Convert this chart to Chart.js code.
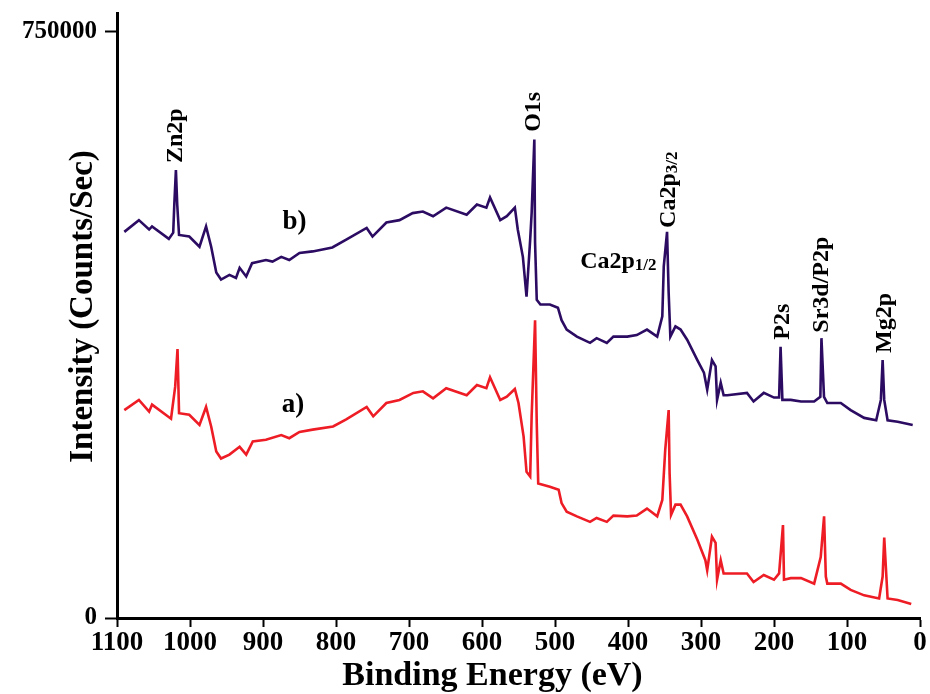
<!DOCTYPE html>
<html>
<head>
<meta charset="utf-8">
<title>XPS survey spectra</title>
<script src="https://cdn.jsdelivr.net/npm/chart.js@4.4.1/dist/chart.umd.min.js"></script>
<style>
  html, body { margin: 0; padding: 0; background: #fff; }
  #wrap { width: 930px; height: 694px; }
</style>
</head>
<body>
<div id="wrap"><canvas id="xps" width="930" height="694"></canvas></div>
<script>
// Binding energy (eV) and intensity (counts/sec), spectrum b (upper trace)
const energyB = [1090, 1070, 1056, 1052, 1029, 1023, 1021.5, 1019.3, 1017.5, 1015,
    1001, 987, 978, 971, 964, 957.5, 946, 937, 932, 923,
    915, 896, 887, 875, 864, 850, 832, 805, 786, 758,
    750, 731, 713, 695, 681, 667, 649, 621, 607, 594,
    589, 575, 566, 555, 551, 544, 539, 534, 532, 528.3,
    527.3, 525, 520, 507, 496, 491, 484, 470, 452, 443,
    429, 420, 401, 388, 374, 360, 353, 351, 346.5, 344.3,
    342, 335, 328, 319, 305, 296, 291.5, 285, 280, 278,
    273, 269, 264, 237, 228, 214, 200, 193, 191, 188.5,
    177, 163, 145, 136.5, 135, 131.5, 127, 108.5, 95, 76.5,
    60, 53.6, 51.2, 49, 44.4, 30.6, 10];
const countsB = [494000, 509000, 497000, 501000, 485000, 493000, 529000, 573000, 529000, 490000,
    488000, 475000, 501000, 475000, 442000, 433000, 439000, 435000, 448000, 437000,
    454000, 458000, 456000, 462000, 458000, 467000, 469000, 474000, 484000, 499000,
    488000, 506000, 509000, 518000, 520000, 514000, 525000, 516000, 529000, 525000,
    538000, 509000, 514000, 525000, 497000, 462000, 411000, 484000, 518000, 612000,
    480000, 407000, 401000, 401000, 397000, 381000, 369000, 360000, 352000, 358000,
    352000, 360000, 360000, 362000, 369000, 360000, 386000, 450000, 494000, 416000,
    360000, 373000, 369000, 356000, 330000, 314000, 292000, 330000, 322000, 279000,
    301000, 285000, 285000, 288000, 277000, 288000, 282000, 282000, 347000, 279000,
    279000, 277000, 277000, 283000, 358000, 283000, 275000, 275000, 266000, 256000,
    253000, 279000, 330000, 279000, 253000, 251000, 247000];

// spectrum a (lower trace)
const energyA = [1090, 1070, 1056, 1052, 1026, 1020.3, 1017.1, 1015, 1001, 987,
    978, 971, 964, 957.5, 946, 932, 923, 914, 896, 875,
    864, 850, 832, 804, 786, 758, 749, 731, 713, 694,
    681, 667, 649, 621, 607, 594, 589, 575, 566, 555,
    550, 543, 539, 534, 532, 527.3, 525, 523, 507, 495,
    491, 484, 470, 452, 443, 429, 420, 401, 388, 374,
    360, 353, 349, 344.3, 343, 341, 335, 328, 319, 305,
    294, 291.5, 285, 280, 278, 273, 269, 264, 237, 228,
    214, 200, 193, 187.7, 186.3, 177, 163, 145, 136, 131.4,
    129, 127, 108.5, 95, 76.5, 56, 51.2, 49, 44.4, 30.6,
    12];
const countsA = [266000, 279000, 264000, 273000, 255000, 296000, 344000, 262000, 260000, 247000,
    270000, 245000, 213000, 204000, 209000, 219000, 209000, 226000, 228000, 234000,
    230000, 238000, 241000, 245000, 254000, 270000, 258000, 275000, 279000, 288000,
    290000, 281000, 294000, 285000, 298000, 294000, 308000, 279000, 283000, 293000,
    275000, 232000, 187000, 181000, 258000, 381000, 249000, 172000, 168000, 164000,
    147000, 136000, 130000, 123000, 128000, 123000, 131000, 130000, 131000, 140000,
    130000, 151000, 215000, 266000, 185000, 132000, 145000, 145000, 130000, 100000,
    74000, 61000, 104000, 96000, 49000, 74000, 57000, 57000, 57000, 46000,
    55000, 49000, 57000, 119000, 49000, 51000, 51000, 44000, 78000, 130000,
    53000, 44000, 44000, 36000, 29000, 25000, 53000, 103000, 25000, 23000,
    18000];

// Axis ticks and titles
const yTickValues = [0, 750000];
const xTitle = 'Binding Energy (eV)';
const yTitle = 'Intensity (Counts/Sec)';

// Peak assignments, anchored in data units (text runs upward from the anchor)
const peakLabels = [
    { text: 'Zn2p', be: 1019, counts: 582000 },
    { text: 'O1s', be: 529.4, counts: 622000 },
    { text: 'Ca2p', sub: '3/2', be: 344, counts: 499000 },
    { text: 'P2s', be: 188, counts: 356000 },
    { text: 'Sr3d/P2p', be: 134.6, counts: 365000 },
    { text: 'Mg2p', be: 48.7, counts: 339000 }
];
const flatLabels = [
    { text: 'Ca2p', sub: '1/2', be: 465.5, counts: 448000, align: 'left' },
    { text: 'b)', be: 857, counts: 498000, align: 'center' },
    { text: 'a)', be: 859, counts: 264000, align: 'center' }
];

const SERIF = '"Liberation Serif", "Times New Roman", serif';

function toPoints(xs, ys) {
    return xs.map((x, i) => ({ x: x, y: ys[i] }));
}

// Draws peak labels and the axis titles
const textPlugin = {
    id: 'xpsText',
    afterDatasetsDraw(chart) {
        const { ctx, chartArea, scales } = chart;
        const xs = scales.x, ys = scales.y;
        ctx.save();
        ctx.fillStyle = '#000';

        peakLabels.forEach(l => {
            const px = xs.getPixelForValue(l.be);
            const py = ys.getPixelForValue(l.counts);
            ctx.save();
            ctx.translate(px, py);
            ctx.rotate(-Math.PI / 2);
            ctx.textAlign = 'left';
            ctx.textBaseline = 'middle';
            ctx.font = 'bold 24px ' + SERIF;
            ctx.fillText(l.text, 0, 0);
            if (l.sub) {
                const w = ctx.measureText(l.text).width;
                ctx.font = 'bold 17px ' + SERIF;
                ctx.fillText(l.sub, w, 4);
            }
            ctx.restore();
        });

        flatLabels.forEach(l => {
            const px = xs.getPixelForValue(l.be);
            const py = ys.getPixelForValue(l.counts);
            ctx.textBaseline = 'alphabetic';
            if (l.sub) {
                ctx.textAlign = 'left';
                ctx.font = 'bold 24px ' + SERIF;
                ctx.fillText(l.text, px, py);
                const w = ctx.measureText(l.text).width;
                ctx.font = 'bold 17px ' + SERIF;
                ctx.fillText(l.sub, px + w, py + 2);
            } else {
                ctx.textAlign = l.align;
                ctx.font = 'bold 27px ' + SERIF;
                ctx.fillText(l.text, px, py);
            }
        });

        // axis titles
        ctx.font = 'bold 34px ' + SERIF;
        ctx.textAlign = 'center';
        ctx.textBaseline = 'alphabetic';
        ctx.fillText(xTitle, (chartArea.left + chartArea.right) / 2 - 26, 685);

        ctx.save();
        ctx.translate(92, (chartArea.top + chartArea.bottom) / 2 - 9);
        ctx.rotate(-Math.PI / 2);
        ctx.font = 'bold 33px ' + SERIF;
        ctx.fillText(yTitle, 0, 0);
        ctx.restore();

        ctx.restore();
    }
};

const ctx = document.getElementById('xps').getContext('2d');
new Chart(ctx, {
    type: 'line',
    data: {
        datasets: [
            {
                label: 'b)',
                data: toPoints(energyB, countsB),
                borderColor: '#2b0c62',
                borderWidth: 2.6,
                pointRadius: 0,
                tension: 0
            },
            {
                label: 'a)',
                data: toPoints(energyA, countsA),
                borderColor: '#ee1c25',
                borderWidth: 2.6,
                pointRadius: 0,
                tension: 0
            }
        ]
    },
    options: {
        responsive: false,
        animation: false,
        layout: { padding: { top: 13, right: 10, left: 0, bottom: 0 } },
        plugins: {
            legend: { display: false },
            tooltip: { enabled: false }
        },
        scales: {
            x: {
                type: 'linear',
                reverse: true,
                min: 0,
                max: 1100,
                ticks: {
                    stepSize: 100,
                    autoSkip: false,
                    maxRotation: 0,
                    padding: 0,
                    color: '#000',
                    font: { family: SERIF, size: 27, weight: 'bold' },
                    callback: v => String(v)
                },
                grid: { drawOnChartArea: false, tickLength: 9, tickWidth: 2, color: '#000' },
                border: { display: true, color: '#000', width: 3 },
                afterFit(scale) { scale.height = 76; }
            },
            y: {
                type: 'linear',
                min: 0,
                max: 774000,
                afterBuildTicks(scale) {
                    scale.ticks = yTickValues.map(v => ({ value: v }));
                },
                ticks: {
                    padding: 8,
                    color: '#000',
                    font: { family: SERIF, size: 25, weight: 'bold' },
                    callback: v => String(v)
                },
                grid: { drawOnChartArea: false, tickLength: 12, tickWidth: 2, color: '#000' },
                border: { display: true, color: '#000', width: 3 },
                afterFit(scale) {
                    scale.width = 117;
                    scale.paddingTop = 0;
                    scale.paddingBottom = 0;
                }
            }
        }
    },
    plugins: [textPlugin]
});
</script>
</body>
</html>
